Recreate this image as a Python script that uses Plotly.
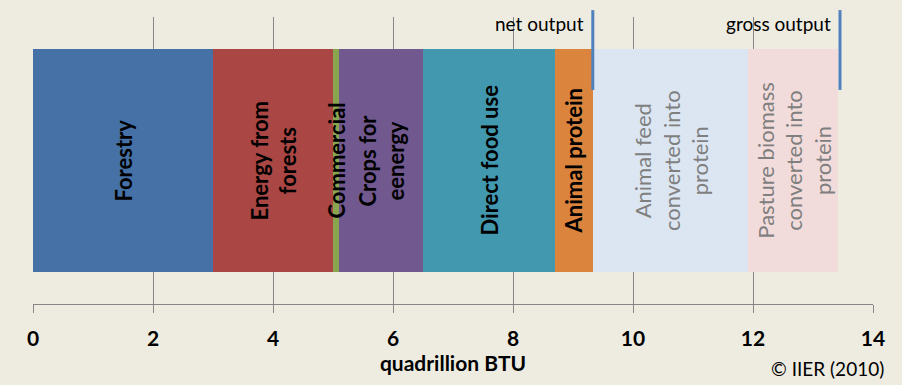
import numpy as np
import plotly.graph_objects as go

# ---- data ----
categories = ["Forestry", "Energy from forests", "Commercial", "Crops for eenergy",
              "Direct food use", "Animal protein", "Animal feed converted into protein",
              "Pasture biomass converted into protein"]
labels = ["Forestry", "Energy from<br>forests", "Commercial", "Crops for<br>eenergy",
          "Direct food use", "Animal protein", "Animal feed<br>converted into<br>protein",
          "Pasture biomass<br>converted into<br>protein"]
values = [3.0, 2.0, 0.1, 1.4, 2.2, 0.63, 2.59, 1.5]
net_output = 9.33
gross_output = 13.45
tick_vals = [0, 2, 4, 6, 8, 10, 12, 14]

colors = ["#4571A6", "#AA4643", "#89A54E", "#71588F", "#4198AF", "#DB843D", "#DCE6F2", "#F2DCDB"]
label_colors = ["#000000"] * 6 + ["#7F7F7F", "#7F7F7F"]
label_weights = ["bold"] * 6 + ["normal", "normal"]

BG = "#EEECE1"
FONT = "Lato"

fig = go.Figure()
for cat, v, c in zip(categories, values, colors):
    fig.add_trace(go.Bar(x=[v], y=[0], orientation="h", name=cat, width=0.777,
                         marker=dict(color=c, line=dict(width=0)), hoverinfo="name+x"))

ends = np.cumsum(values)
mids = ends - np.array(values) / 2
for m, lab, lc, lw in zip(mids, labels, label_colors, label_weights):
    fig.add_annotation(x=m, y=0, xref="x", yref="y", text=lab, textangle=-90,
                       showarrow=False, align="center",
                       font=dict(family=FONT, size=22, color=lc, weight=lw))

for xv, txt in [(net_output, "net output"), (gross_output, "gross output")]:
    fig.add_shape(type="line", xref="x", yref="paper", x0=xv, x1=xv, y0=0.746, y1=1.024,
                  line=dict(color="#4F81BD", width=3))
    fig.add_annotation(x=xv, y=0.979, xref="x", yref="paper", text=txt, showarrow=False,
                       xanchor="right", yanchor="middle", xshift=-7,
                       font=dict(family=FONT, size=19, color="#000000"))

fig.add_annotation(x=1.0155, y=-0.226, xref="paper", yref="paper", text="© IIER (2010)",
                   showarrow=False, xanchor="right", yanchor="middle",
                   font=dict(family=FONT, size=19, color="#000000"))

fig.update_layout(
    width=902, height=385,
    margin=dict(l=33, r=29, t=17, b=81),
    paper_bgcolor=BG, plot_bgcolor=BG,
    barmode="stack", showlegend=False,
    xaxis=dict(range=[0, 14], tickvals=tick_vals, showgrid=True, gridcolor="#868686",
               gridwidth=1, showline=True, linecolor="#868686", linewidth=1,
               ticks="outside", ticklen=8, tickcolor="#868686", zeroline=False,
               ticklabelstandoff=8, automargin=False,
               tickfont=dict(family=FONT, size=21, color="#000000", weight="bold"),
               title=dict(text="quadrillion BTU", standoff=6,
                          font=dict(family=FONT, size=21, color="#000000", weight="bold"))),
    yaxis=dict(range=[-0.5, 0.5], visible=False, fixedrange=True, automargin=False),
)

fig.write_html("out.html", config={"displayModeBar": False},
               post_script="document.body.style.margin='0';document.body.style.background='%s';" % BG)
